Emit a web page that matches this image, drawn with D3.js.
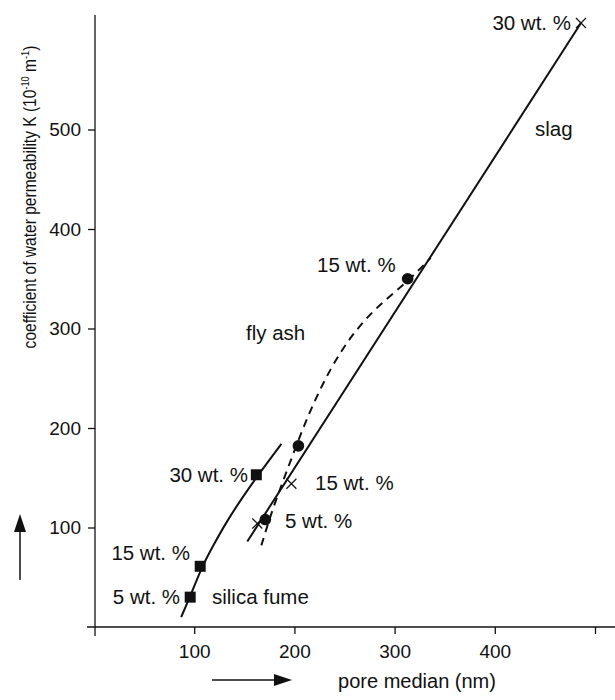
<!DOCTYPE html>
<html>
<head>
<meta charset="utf-8">
<script src="https://cdn.jsdelivr.net/npm/d3@7"></script>
<style>
  body { margin: 0; background: #fff; }
  text { font-family: "Liberation Sans", Arial, sans-serif; fill: #111; }
</style>
</head>
<body>
<svg id="chart" width="615" height="700"></svg>
<script>
// values (pore median nm, K in 1e-10 m^-1)
var xTicks = [100, 200, 300, 400, 500];
var yTicks = [100, 200, 300, 400, 500];

// silica fume curve and its points
var silicaCurve = [[87,10],[97,33],[107,59],[119,82],[133,107],[148,130],[164,153],[187,184]];
var silicaPts = [[96,30],[106,61],[162,153]];

// fly ash dashed curve and its points
var flyCurve = [[167,82],[178,118],[191,153],[204,188],[218,223],[236,260],[256,292],[281,321],[313,347],[336,371]];
var flyPts = [[171,108],[204,182],[313,350]];

// slag straight line and its points
var slagLine = [[153,86],[486,607]];
var slagPts = [[163,104],[197,144],[486,607]];

var svg = d3.select("#chart");

var x = d3.scaleLinear().domain([0, 500]).range([94, 595]);
var y = d3.scaleLinear().domain([0, 600]).range([627, 30]);

// axes lines (extend a little past the corner like the original)
svg.append("line").attr("x1", 87).attr("x2", 615).attr("y1", y(0)).attr("y2", y(0))
   .attr("stroke", "#111").attr("stroke-width", 1.3);
svg.append("line").attr("x1", x(0) + 1).attr("x2", x(0) + 1).attr("y1", 15).attr("y2", 636)
   .attr("stroke", "#111").attr("stroke-width", 1.3);

var xAxis = svg.append("g")
  .attr("transform", "translate(0," + y(0) + ")")
  .call(d3.axisBottom(x).tickValues(xTicks).tickSize(7).tickPadding(11)
        .tickFormat(d => d == 500 ? "" : d));
var yAxis = svg.append("g")
  .attr("transform", "translate(" + (x(0) + 1) + ",0)")
  .call(d3.axisLeft(y).tickValues(yTicks).tickSize(7).tickPadding(7));

[xAxis, yAxis].forEach(function(g){
  g.select(".domain").remove();
  g.selectAll("line").attr("stroke", "#111").attr("stroke-width", 1.3);
  g.selectAll("text").style("font-size", "19px").style("font-family", "Liberation Sans, Arial, sans-serif").attr("fill", "#111");
});

// curves
var smooth = d3.line().x(d => x(d[0])).y(d => y(d[1])).curve(d3.curveBasis);

svg.append("path").datum(silicaCurve).attr("d", smooth)
   .attr("fill", "none").attr("stroke", "#111").attr("stroke-width", 2);
svg.append("path").datum(flyCurve).attr("d", smooth)
   .attr("fill", "none").attr("stroke", "#111").attr("stroke-width", 2)
   .attr("stroke-dasharray", "8,6");
svg.append("path").datum(slagLine).attr("d", d3.line().x(d => x(d[0])).y(d => y(d[1])))
   .attr("fill", "none").attr("stroke", "#111").attr("stroke-width", 2);

// markers
svg.selectAll("rect.sf").data(silicaPts).enter().append("rect")
   .attr("class", "sf")
   .attr("x", d => x(d[0]) - 5.5).attr("y", d => y(d[1]) - 5.5)
   .attr("width", 11).attr("height", 11).attr("fill", "#111");

svg.selectAll("circle.fa").data(flyPts).enter().append("circle")
   .attr("class", "fa")
   .attr("cx", d => x(d[0])).attr("cy", d => y(d[1])).attr("r", 5.8)
   .attr("fill", "#111");

var cross = svg.selectAll("g.sl").data(slagPts).enter().append("g")
   .attr("class", "sl")
   .attr("transform", d => "translate(" + x(d[0]) + "," + y(d[1]) + ")");
cross.append("path").attr("d", "M-5,-5L5,5M-5,5L5,-5")
   .attr("stroke", "#111").attr("stroke-width", 1.2);

// annotations
var notes = [
  {t: "30 wt. %", x: 571, y: 30, a: "end"},
  {t: "slag", x: 535, y: 136, a: "start"},
  {t: "15 wt. %", x: 317, y: 272, a: "start"},
  {t: "fly ash", x: 246, y: 340, a: "start"},
  {t: "30 wt. %", x: 248, y: 482, a: "end"},
  {t: "15 wt. %", x: 315, y: 490, a: "start"},
  {t: "5 wt. %", x: 285, y: 528, a: "start"},
  {t: "15 wt. %", x: 190, y: 560, a: "end"},
  {t: "5 wt. %", x: 180, y: 604, a: "end"},
  {t: "silica fume", x: 212, y: 604, a: "start"}
];
svg.selectAll("text.note").data(notes).enter().append("text")
   .attr("class", "note")
   .attr("x", d => d.x).attr("y", d => d.y)
   .attr("text-anchor", d => d.a)
   .style("font-size", "20.5px")
   .text(d => d.t);

// axis titles (y title is a condensed face in the original)
var yt = svg.append("text")
   .attr("transform", "translate(36,197) rotate(-90) scale(0.84,1)")
   .attr("text-anchor", "middle")
   .style("font-size", "18.5px");
yt.append("tspan").text("coefficient of water permeability K (10");
yt.append("tspan").attr("dy", -7).style("font-size", "11px").text("-10");
yt.append("tspan").attr("dy", 7).text(" m");
yt.append("tspan").attr("dy", -7).style("font-size", "11px").text("-1");
yt.append("tspan").attr("dy", 7).text(")");

svg.append("text").attr("x", 417).attr("y", 688)
   .attr("text-anchor", "middle").style("font-size", "20px")
   .text("pore median (nm)");

// direction arrows
svg.append("line").attr("x1", 20).attr("x2", 20).attr("y1", 580).attr("y2", 530)
   .attr("stroke", "#111").attr("stroke-width", 1.5);
svg.append("path").attr("d", "M14,532L20,514L26,532Z").attr("fill", "#111");
svg.append("line").attr("x1", 212).attr("x2", 276).attr("y1", 680).attr("y2", 680)
   .attr("stroke", "#111").attr("stroke-width", 1.5);
svg.append("path").attr("d", "M274,674L292,680L274,686Z").attr("fill", "#111");
</script>
</body>
</html>
